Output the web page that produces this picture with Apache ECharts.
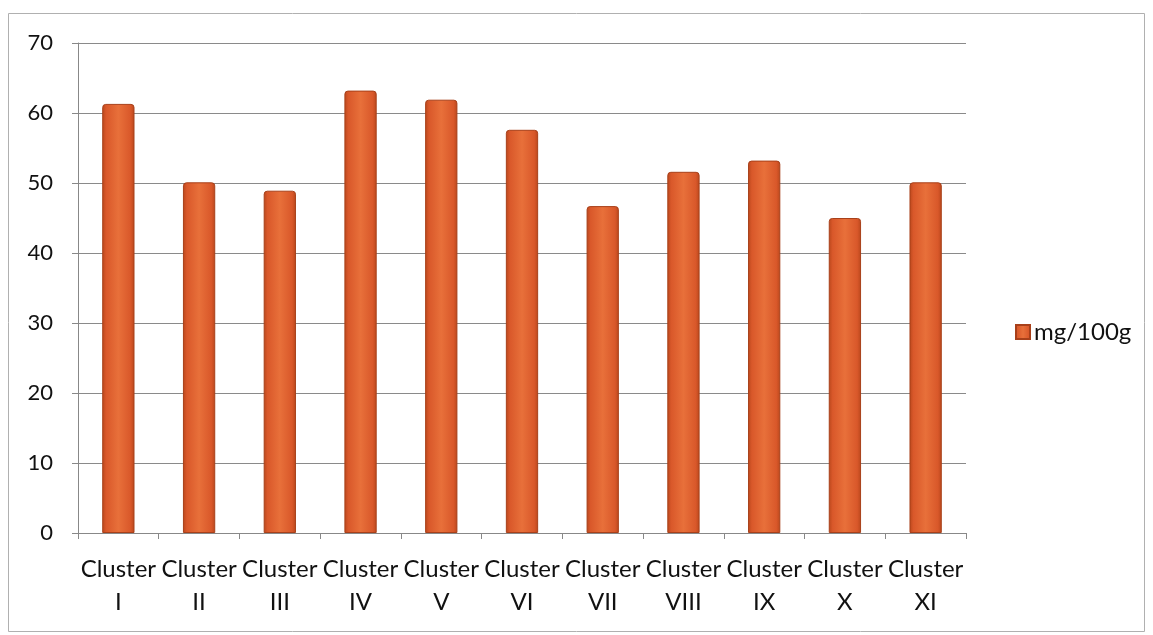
<!DOCTYPE html>
<html>
<head>
<meta charset="utf-8">
<script src="https://cdn.jsdelivr.net/npm/echarts@6/dist/echarts.min.js"></script>
<style>
  html, body { margin: 0; padding: 0; background: #fff; }
  #chart { width: 1153px; height: 635px; }
</style>
</head>
<body>
<div id="chart"></div>
<script>
// chart data
const categories = ["Cluster\nI", "Cluster\nII", "Cluster\nIII", "Cluster\nIV", "Cluster\nV", "Cluster\nVI",
  "Cluster\nVII", "Cluster\nVIII", "Cluster\nIX", "Cluster\nX", "Cluster\nXI"];
const seriesName = "mg/100g";
const values = [61.3, 50.1, 48.9, 63.2, 61.9, 57.6, 46.7, 51.6, 53.2, 45.0, 50.1];

const fontFamily = "Lato, 'Open Sans', sans-serif";

const barColor = new echarts.graphic.LinearGradient(0, 0, 1, 0, [
  { offset: 0, color: "#b9471c" },
  { offset: 0.12, color: "#d9582a" },
  { offset: 0.5, color: "#e8703a" },
  { offset: 0.88, color: "#d9582a" },
  { offset: 1, color: "#b9471c" }
]);

const chart = echarts.init(document.getElementById("chart"));

chart.setOption({
  animation: false,
  backgroundColor: "#fff",
  graphic: [{
    type: "rect",
    shape: { x: 8.5, y: 13.5, width: 1136, height: 618 },
    style: { fill: "none", stroke: "#b0b0b0", lineWidth: 1 },
    silent: true
  }],
  grid: { left: 78, right: 187, top: 43, bottom: 102 },
  legend: {
    data: [{ name: seriesName, icon: "rect" }],
    orient: "vertical",
    left: 1010,
    top: 315,
    itemWidth: 14,
    itemHeight: 14,
    itemGap: 6,
    textStyle: { fontFamily: fontFamily, fontSize: 24, color: "#111", padding: [0, 0, 0, -1] }
  },
  xAxis: {
    type: "category",
    data: categories,
    axisLine: { lineStyle: { color: "#888", width: 1 } },
    axisTick: { show: true, alignWithLabel: false, length: 6, lineStyle: { color: "#888" } },
    axisLabel: {
      fontFamily: fontFamily,
      fontSize: 24,
      color: "#111",
      lineHeight: 33,
      margin: 20,
      interval: 0
    }
  },
  yAxis: {
    type: "value",
    min: 0,
    max: 70,
    interval: 10,
    axisLine: { show: true, lineStyle: { color: "#888", width: 1 } },
    axisTick: { show: true, length: 6, lineStyle: { color: "#888" } },
    splitLine: { lineStyle: { color: "#8a8a8a", width: 1 } },
    axisLabel: { fontFamily: fontFamily, fontSize: 22, color: "#111", margin: 25 }
  },
  series: [{
    name: seriesName,
    type: "bar",
    data: values,
    barWidth: "40%",
    itemStyle: {
      color: barColor,
      borderColor: "#a8401a",
      borderWidth: 1,
      borderRadius: [3, 3, 0, 0]
    }
  }]
});
</script>
</body>
</html>
